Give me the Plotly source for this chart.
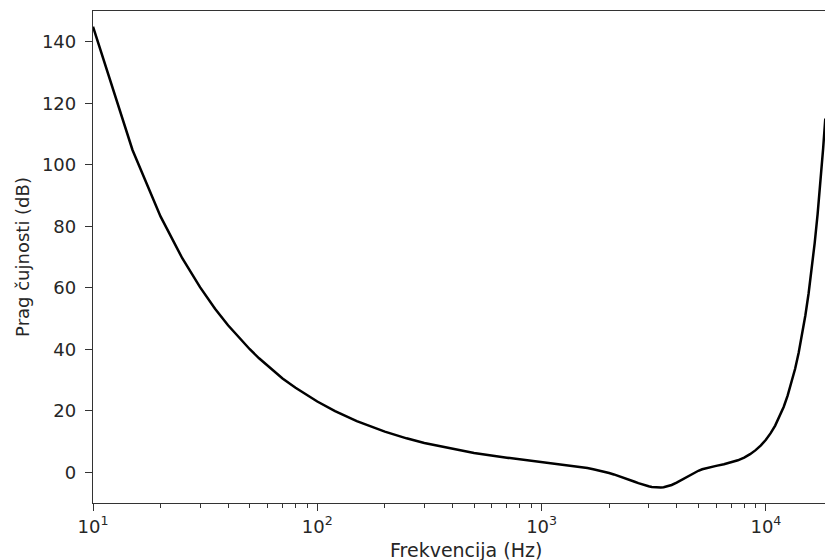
import plotly.graph_objects as go

# Frequencies (Hz) and hearing threshold (dB)
freq_hz = [10, 15, 20, 25, 30, 35, 40, 45, 50, 55, 60, 70, 80, 90, 100, 120, 150, 200,
           250, 300, 400, 500, 700, 1000, 1200, 1300, 1400, 1500, 1600, 1700, 1800,
           1900, 2000, 2100, 2200, 2300, 2400, 2500, 2600, 2700, 2800, 2900, 3000,
           3100, 3200, 3300, 3400, 3500, 3600, 3700, 3800, 4000, 4200, 4500, 4700,
           5000, 5200, 5500, 5700, 6000, 6500, 7000, 7500, 8000, 8500, 9000, 9500,
           10000, 10500, 11000, 11500, 12000, 12500, 13000, 13500, 14000, 14500,
           15000, 15500, 16000, 16500, 17000, 17500, 18000, 18400]
threshold_db = [144.9, 104.8, 83.2, 69.6, 60.2, 53.2, 47.8, 43.5, 40.0, 37.05, 34.6,
                30.5, 27.5, 25.0, 23.0, 19.85, 16.6, 13.2, 11.03, 9.54, 7.58, 6.28,
                4.73, 3.37, 2.69, 2.36, 2.04, 1.71, 1.36, 0.99, 0.60, 0.19, -0.25,
                -0.71, -1.18, -1.67, -2.16, -2.64, -3.10, -3.54, -3.94, -4.28, -4.57,
                -4.78, -4.92, -4.98, -4.96, -4.86, -4.68, -4.44, -4.14, -3.39, -2.53,
                -1.24, -0.46, 0.48, 0.96, 1.49, 1.75, 2.08, 2.59, 3.17, 3.89, 4.79,
                5.88, 7.19, 8.75, 10.58, 12.71, 15.18, 18.01, 21.23, 24.90, 29.03,
                33.67, 38.86, 44.63, 51.04, 58.13, 65.93, 74.51, 83.90, 94.16, 105.34,
                115.0]

x_tickvals = [10, 100, 1000, 10000]
x_ticktext = ["10<sup>1</sup>", "10<sup>2</sup>", "10<sup>3</sup>", "10<sup>4</sup>"]
y_tickvals = [0, 20, 40, 60, 80, 100, 120, 140]
x_title = "Frekvencija (Hz)"
y_title = "Prag čujnosti (dB)"

minor_vals = [m * 10 ** e for e in range(1, 5) for m in range(2, 10)]

TXT = "#262626"
AX = "#333333"

fig = go.Figure()
fig.add_trace(go.Scatter(x=freq_hz, y=threshold_db, mode="lines",
                         line=dict(color="black", width=2.5), showlegend=False))

fig.update_layout(
    width=825, height=560,
    margin=dict(l=93, r=0, t=11, b=57),
    paper_bgcolor="white", plot_bgcolor="white",
    font=dict(family="DejaVu Sans", size=18, color=TXT),
    xaxis=dict(type="log", range=[1, 4.2635],
               tickvals=x_tickvals, ticktext=x_ticktext,
               tickfont=dict(size=18, family="DejaVu Sans", color=TXT),
               ticks="outside", ticklen=7, tickwidth=1, tickcolor=AX,
               minor=dict(tickvals=minor_vals, ticks="outside", ticklen=4, tickwidth=1, tickcolor=AX),
               showline=True, linecolor=AX, linewidth=1.3, mirror=True,
               showgrid=False, zeroline=False),
    yaxis=dict(range=[-10, 150], tickvals=y_tickvals,
               tickfont=dict(size=18, family="DejaVu Sans", color=TXT),
               ticks="outside", ticklen=7, tickwidth=1, tickcolor=AX,
               ticklabelstandoff=5,
               showline=True, linecolor=AX, linewidth=1.3, mirror=False,
               showgrid=False, zeroline=False,
               title=dict(text=y_title, font=dict(size=18, family="DejaVu Sans", color=TXT), standoff=7)),
    annotations=[dict(text=x_title, xref="paper", yref="paper", x=0.510, y=0,
                      yshift=-47, yanchor="middle", xanchor="center", showarrow=False,
                      font=dict(size=19, family="DejaVu Sans", color=TXT))],
)

fig.write_html("out.html", config={"displayModeBar": False},
               post_script="document.body.style.margin='0';document.body.style.overflow='hidden';")
